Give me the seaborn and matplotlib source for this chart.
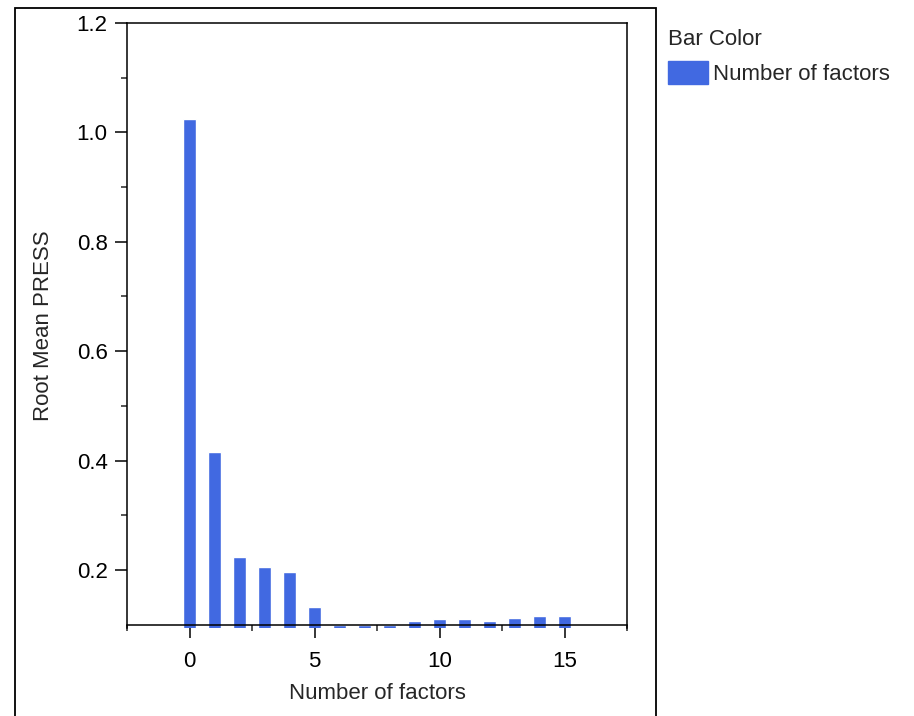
import numpy as np
import pandas as pd
import seaborn as sns
import matplotlib.pyplot as plt
from matplotlib.patches import Patch, Rectangle
from matplotlib.ticker import MultipleLocator

factors = list(range(16))
root_mean_press = [1.025, 0.415, 0.224, 0.206, 0.196, 0.133, 0.100, 0.100,
                   0.100, 0.106, 0.110, 0.110, 0.106, 0.112, 0.116, 0.116]
bar_color = "#4169E1"

df = pd.DataFrame({"Number of factors": factors, "Root Mean PRESS": root_mean_press})

sns.set_style("white")
plt.rcParams['font.family'] = ['Liberation Sans', 'DejaVu Sans']
fs = 16

fig = plt.figure(figsize=(9.14, 7.16), dpi=100)
ax = fig.add_axes([0.139, 0.1233, 0.547, 0.8446])

sns.barplot(data=df, x="Number of factors", y="Root Mean PRESS", native_scale=True,
            width=0.5, color=bar_color, saturation=1, ax=ax)

ax.set_xlim(-2.5, 17.5)
ax.set_ylim(0.0945, 1.2)
ax.spines["bottom"].set_position(("data", 0.1))
ax.xaxis.set_major_locator(MultipleLocator(5))
ax.xaxis.set_minor_locator(MultipleLocator(2.5))
ax.set_yticks([0.2, 0.4, 0.6, 0.8, 1.0, 1.2])
ax.set_yticks([0.3, 0.5, 0.7, 0.9, 1.1], minor=True)
ax.yaxis.set_major_formatter(plt.FuncFormatter(lambda v, p: f"{v:.1f}"))

ax.tick_params(axis="both", which="major", direction="out", length=9, width=1.1,
               labelsize=fs, colors="black", bottom=True, left=True, pad=5)
ax.tick_params(axis="x", which="major", pad=10)
ax.tick_params(axis="both", which="minor", direction="out", length=4.5, width=1.1,
               bottom=True, left=True)
for s in ax.spines.values():
    s.set_visible(True)
    s.set_color("black")
    s.set_linewidth(1.1)

ax.set_xlabel("Number of factors", fontsize=fs, labelpad=8)
ax.set_ylabel("Root Mean PRESS", fontsize=fs, labelpad=16)

# outer frame around the graph
fig.patches.append(Rectangle((15 / 914, -0.1), (656 - 15) / 914, 1.1 - 8 / 716,
                             transform=fig.transFigure, fill=False,
                             edgecolor="black", linewidth=1.3))

handles = [Patch(facecolor=bar_color, edgecolor=bar_color, label="Number of factors")]
leg = fig.legend(handles=handles, title="Bar Color", loc="upper left",
                 bbox_to_anchor=(0.731, 0.960), frameon=False, fontsize=fs,
                 title_fontsize=fs, handlelength=1.8, handleheight=1.2,
                 handletextpad=0.2, borderaxespad=0, borderpad=0, labelspacing=0.5)
leg._legend_box.align = "left"
leg._legend_box.sep = 8

fig.savefig("out.png", dpi=100)
